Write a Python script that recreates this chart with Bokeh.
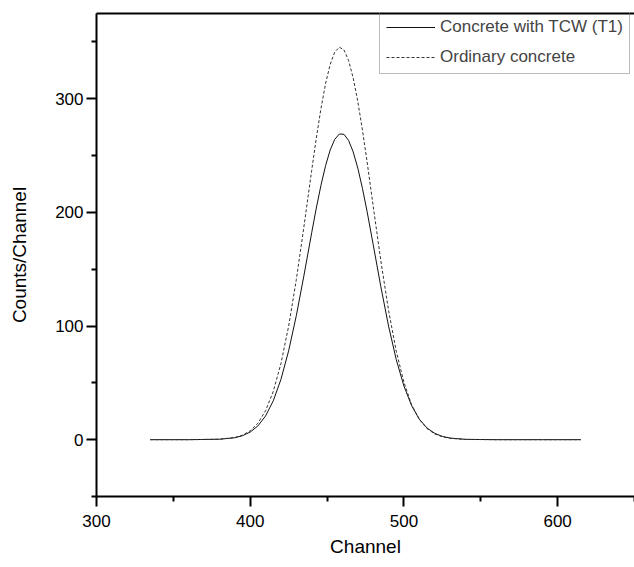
from bokeh.plotting import figure
from bokeh.models import FixedTicker, LinearAxis, Legend, LegendItem, Range1d
from bokeh.embed import file_html
from bokeh.resources import INLINE

# Channel positions (x) and counts
channel = [335, 360, 380, 390, 395, 400, 405, 410, 415, 420, 425, 430, 435, 440,
           443, 446, 449, 452, 455, 458, 461, 464, 467, 470, 473, 476, 480,
           485, 490, 495, 500, 505, 510, 515, 520, 525, 530, 540, 560, 590, 615]
tcw_counts = [0, 0, 0.4, 1.7, 3.5, 6.7, 12.1, 20.9, 34.2, 53.1, 78.2, 109.2, 144.8, 182.1,
              203.8, 223.7, 241.0, 254.8, 264.3, 269.0, 268.7, 263.3, 253.2, 238.9, 221.2, 201.0, 171.7,
              134.5, 100.0, 70.5, 47.2, 29.9, 18.0, 10.3, 5.6, 2.9, 1.4, 0.3, 0, 0, 0]
ordinary_counts = [0, 0, 0.4, 1.9, 4.0, 7.8, 14.5, 25.5, 42.5, 67.0, 99.9, 140.9, 187.9, 237.0,
                   265.4, 291.1, 313.2, 330.1, 341.1, 345.4, 342.9, 333.7, 318.2, 297.5, 272.6, 244.8, 205.6,
                   157.2, 113.8, 77.9, 50.4, 30.8, 17.9, 9.8, 5.1, 2.5, 1.2, 0.2, 0, 0, 0]

x_major = [300, 400, 500, 600]
x_minor = [350, 450, 550, 650]
y_major = [0, 100, 200, 300]
y_minor = [-50, 50, 150, 250, 350]

series_labels = ["Concrete with TCW (T1)", "Ordinary concrete"]
FONT = "Liberation Sans"

p = figure(width=634, height=559, output_backend="svg", toolbar_location=None,
           x_range=Range1d(300, 650), y_range=Range1d(-50, 375),
           min_border_left=96, min_border_right=0, min_border_top=13, min_border_bottom=62)
p.outline_line_color = None
p.grid.visible = False
p.background_fill_color = "white"
p.border_fill_color = "white"

r1 = p.line(channel, tcw_counts, line_color="#111111", line_width=1)
r2 = p.line(channel, ordinary_counts, line_color="#333333", line_width=1, line_dash="3 2")

for ax, maj, mnr in ((p.xaxis[0], x_major, x_minor), (p.yaxis[0], y_major, y_minor)):
    ax.ticker = FixedTicker(ticks=maj, minor_ticks=mnr)
    ax.axis_line_width = 2
    ax.axis_line_color = "black"
    ax.major_tick_line_width = 2
    ax.minor_tick_line_width = 2
    ax.major_tick_in = 0
    ax.major_tick_out = 10
    ax.minor_tick_in = 0
    ax.minor_tick_out = 5
    ax.major_label_text_font = FONT
    ax.major_label_text_font_size = "17px"
    ax.major_label_text_color = "black"
    ax.axis_label_text_font = FONT
    ax.axis_label_text_font_size = "19px"
    ax.axis_label_text_font_style = "normal"
    ax.axis_label_text_color = "black"

p.xaxis[0].axis_label = "Channel"
p.yaxis[0].axis_label = "Counts/Channel"
p.xaxis[0].major_label_standoff = 8
p.yaxis[0].major_label_standoff = 3
p.xaxis[0].axis_label_standoff = 6
p.yaxis[0].axis_label_standoff = 22

top = LinearAxis(ticker=FixedTicker(ticks=[], minor_ticks=[]), axis_line_width=2,
                 axis_line_color="black", major_tick_out=0, minor_tick_out=0,
                 major_label_text_font_size="0px")
p.add_layout(top, "above")

legend = Legend(items=[LegendItem(label=series_labels[0], renderers=[r1]),
                       LegendItem(label=series_labels[1], renderers=[r2])],
                location=(283, 422), margin=0, padding=6, spacing=10,
                glyph_width=49, glyph_height=20, label_height=20, label_standoff=5,
                label_text_font=FONT, label_text_font_size="17px",
                border_line_color="#777777", border_line_width=1,
                background_fill_alpha=0)
p.add_layout(legend)

open("out.html", "w").write(file_html(p, INLINE))
